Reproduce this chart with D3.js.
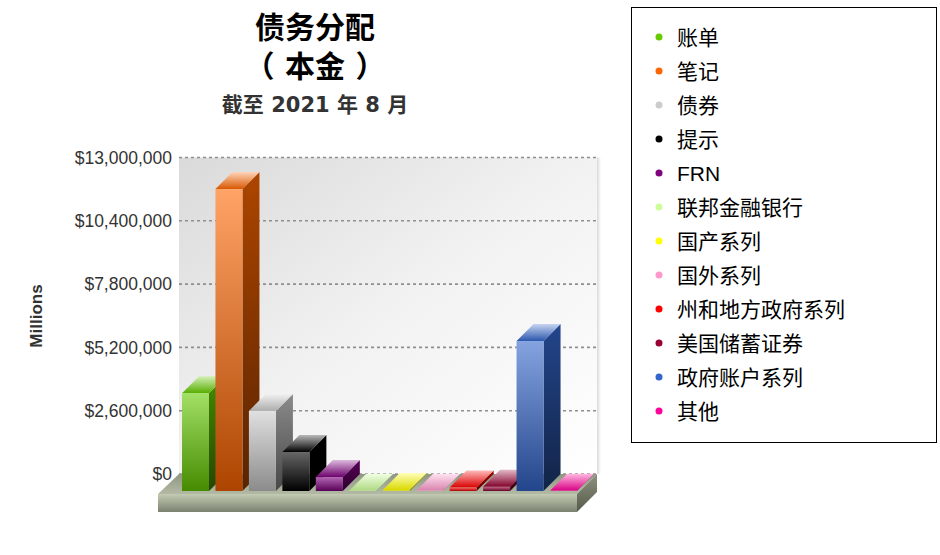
<!DOCTYPE html>
<html>
<head>
<meta charset="utf-8">
<script src="https://cdn.jsdelivr.net/npm/d3@7"></script>
<style>
html, body { margin: 0; padding: 0; background: #fff; }
svg { display: block; }
text { font-family: "Liberation Sans", "Noto Sans CJK SC", sans-serif; }
.axis path, .axis line { display: none; }
.axis text { font-size: 17.5px; fill: #333; font-family: "Liberation Sans", sans-serif; }
.title, .subtitle { font-family: "DejaVu Sans", "Noto Sans CJK SC", sans-serif; }
</style>
</head>
<body>
<div id="chart"></div>
<script>
// values, in dollars (millions label kept as in the original)
const categories = ["账单", "笔记", "债券", "提示", "FRN", "联邦金融银行", "国产系列", "国外系列", "州和地方政府系列", "美国储蓄证券", "政府账户系列", "其他"];
const amounts = [4020000, 12400000, 3290000, 1600000, 570000, 10000, 40000, 10000, 140000, 170000, 6160000, 10000];
const colors = ["#66cc00", "#ff6600", "#cccccc", "#000000", "#800080", "#ccff99", "#ffff00", "#ff99cc", "#ff0000", "#990033", "#3366cc", "#ff0099"];
const yTicks = [0, 2600000, 5200000, 7800000, 10400000, 13000000];
const titleLines = ["债务分配", "（ 本金 ）"];
const subtitle = "截至 2021 年 8 月";
const yTitle = "Millions";

const width = 940, height = 555;
const depth = 17;              // 3d offset of the bars
const wall = { left: 179, right: 597, top: 157.5, bottom: 474 };

const svg = d3.select("#chart").append("svg")
	.attr("width", width)
	.attr("height", height);
const defs = svg.append("defs");

const y = d3.scaleLinear().domain([0, 13000000]).range([wall.bottom, wall.top]);
const x = d3.scaleBand().domain(categories).range([182, 577]).paddingInner(0.193).paddingOuter(0);

function mix(c, t, amount) {
	return d3.interpolateRgb(c, t)(amount);
}

function gradient(id, stops, x2, y2) {
	const g = defs.append("linearGradient").attr("id", id)
		.attr("x1", 0).attr("y1", 0).attr("x2", x2).attr("y2", y2);
	stops.forEach((s, i) => {
		g.append("stop").attr("offset", i / (stops.length - 1)).attr("stop-color", s);
	});
}

function poly(points) {
	return points.map(p => p.join(",")).join(" ");
}

// back wall
gradient("wallFill", ["#dadada", "#f2f2f2", "#ffffff"], 1, 1);
gradient("wallShadow", ["#d9d9d9", "#ffffff"], 1, 0);
svg.append("rect")
	.attr("x", wall.left).attr("y", wall.top)
	.attr("width", wall.right - wall.left).attr("height", wall.bottom - wall.top)
	.attr("fill", "url(#wallFill)");
svg.append("rect")
	.attr("x", wall.right).attr("y", wall.top)
	.attr("width", 4).attr("height", wall.bottom - wall.top)
	.attr("fill", "url(#wallShadow)");

// grid
svg.append("g").selectAll("line").data(yTicks).enter().append("line")
	.attr("x1", wall.left).attr("x2", wall.right)
	.attr("y1", d => y(d)).attr("y2", d => y(d))
	.attr("stroke", "#8f8f8f")
	.attr("stroke-width", 1.6)
	.attr("stroke-dasharray", "3,3");

// axis
const yAxis = d3.axisLeft(y).tickValues(yTicks).tickSize(0).tickPadding(0).tickFormat(d3.format("$,"));
svg.append("g")
	.attr("class", "axis")
	.attr("transform", "translate(172,0)")
	.call(yAxis);

svg.append("text")
	.attr("transform", "translate(42,316) rotate(-90)")
	.attr("text-anchor", "middle")
	.attr("font-size", 17)
	.attr("font-weight", "bold")
	.attr("fill", "#333")
	.text(yTitle);

// floor
const floorFront = { left: 158, right: 577, top: 494, bottom: 512 };
gradient("floorTop", ["#8f9682", "#b3baa4"], 0, 1);
gradient("floorFront", ["#c4cbb4", "#7a8270"], 0, 1);
gradient("floorSide", ["#8d937f", "#555b49"], 0, 1);
svg.append("polygon")
	.attr("points", poly([[wall.left, y(0)], [wall.right, y(0)], [floorFront.right, floorFront.top], [floorFront.left, floorFront.top]]))
	.attr("fill", "url(#floorTop)");
svg.append("rect")
	.attr("x", floorFront.left).attr("y", floorFront.top)
	.attr("width", floorFront.right - floorFront.left).attr("height", floorFront.bottom - floorFront.top)
	.attr("fill", "url(#floorFront)");
svg.append("polygon")
	.attr("points", poly([[floorFront.right, floorFront.top], [wall.right, y(0)], [wall.right, 492], [floorFront.right, floorFront.bottom]]))
	.attr("fill", "url(#floorSide)");

// bars
const bars = categories.map((c, i) => ({ name: c, value: amounts[i], color: colors[i], i: i }));
bars.forEach(d => {
	const base = d3.color(d.color);
	const dark = mix(base, "#000", 0.32);
	gradient("front" + d.i, [mix(base, "#fff", 0.4), dark], 0, 1);
	gradient("side" + d.i, [dark, mix(base, "#000", 0.65)], 0, 1);
	gradient("top" + d.i, [mix(base, "#fff", 0.72), mix(base, "#000", 0.15)], 0, 1);
});

const bar = svg.append("g").selectAll("g").data(bars).enter().append("g");
const bw = x.bandwidth();
const frontBottom = y(0) + depth;
const frontTop = d => y(d.value) + depth;

bar.append("polygon")
	.attr("points", d => poly([
		[x(d.name) + bw, frontTop(d)], [x(d.name) + bw + depth, y(d.value)],
		[x(d.name) + bw + depth, y(0)], [x(d.name) + bw, frontBottom]]))
	.attr("fill", d => `url(#side${d.i})`);
bar.append("polygon")
	.attr("points", d => poly([
		[x(d.name), frontTop(d)], [x(d.name) + depth, y(d.value)],
		[x(d.name) + bw + depth, y(d.value)], [x(d.name) + bw, frontTop(d)]]))
	.attr("fill", d => `url(#top${d.i})`);
bar.append("rect")
	.attr("x", d => x(d.name))
	.attr("y", frontTop)
	.attr("width", bw)
	.attr("height", d => frontBottom - frontTop(d))
	.attr("fill", d => `url(#front${d.i})`);

// titles
svg.selectAll(".title").data(titleLines).enter().append("text")
	.attr("class", "title")
	.attr("x", 315)
	.attr("y", (d, i) => 38 + i * 39)
	.attr("text-anchor", "middle")
	.attr("font-size", 30)
	.attr("font-weight", "bold")
	.attr("fill", "#000")
	.text(d => d);
svg.append("text")
	.attr("class", "subtitle")
	.attr("x", 315).attr("y", 112)
	.attr("text-anchor", "middle")
	.attr("font-size", 21)
	.attr("font-weight", "bold")
	.attr("fill", "#333")
	.text(subtitle);

// legend
svg.append("rect")
	.attr("x", 631.5).attr("y", 7.5)
	.attr("width", 305).attr("height", 435)
	.attr("fill", "#fff").attr("stroke", "#000");
const legendY = d3.scalePoint().domain(categories).range([37, 411]);
const item = svg.append("g").selectAll("g").data(bars).enter().append("g")
	.attr("transform", d => "translate(0," + legendY(d.name) + ")");
item.append("circle").attr("cx", 659).attr("r", 3.5).attr("fill", d => d.color);
item.append("text")
	.attr("x", 677).attr("y", 7.5)
	.attr("font-size", 21)
	.attr("fill", "#000")
	.text(d => d.name);
</script>
</body>
</html>
